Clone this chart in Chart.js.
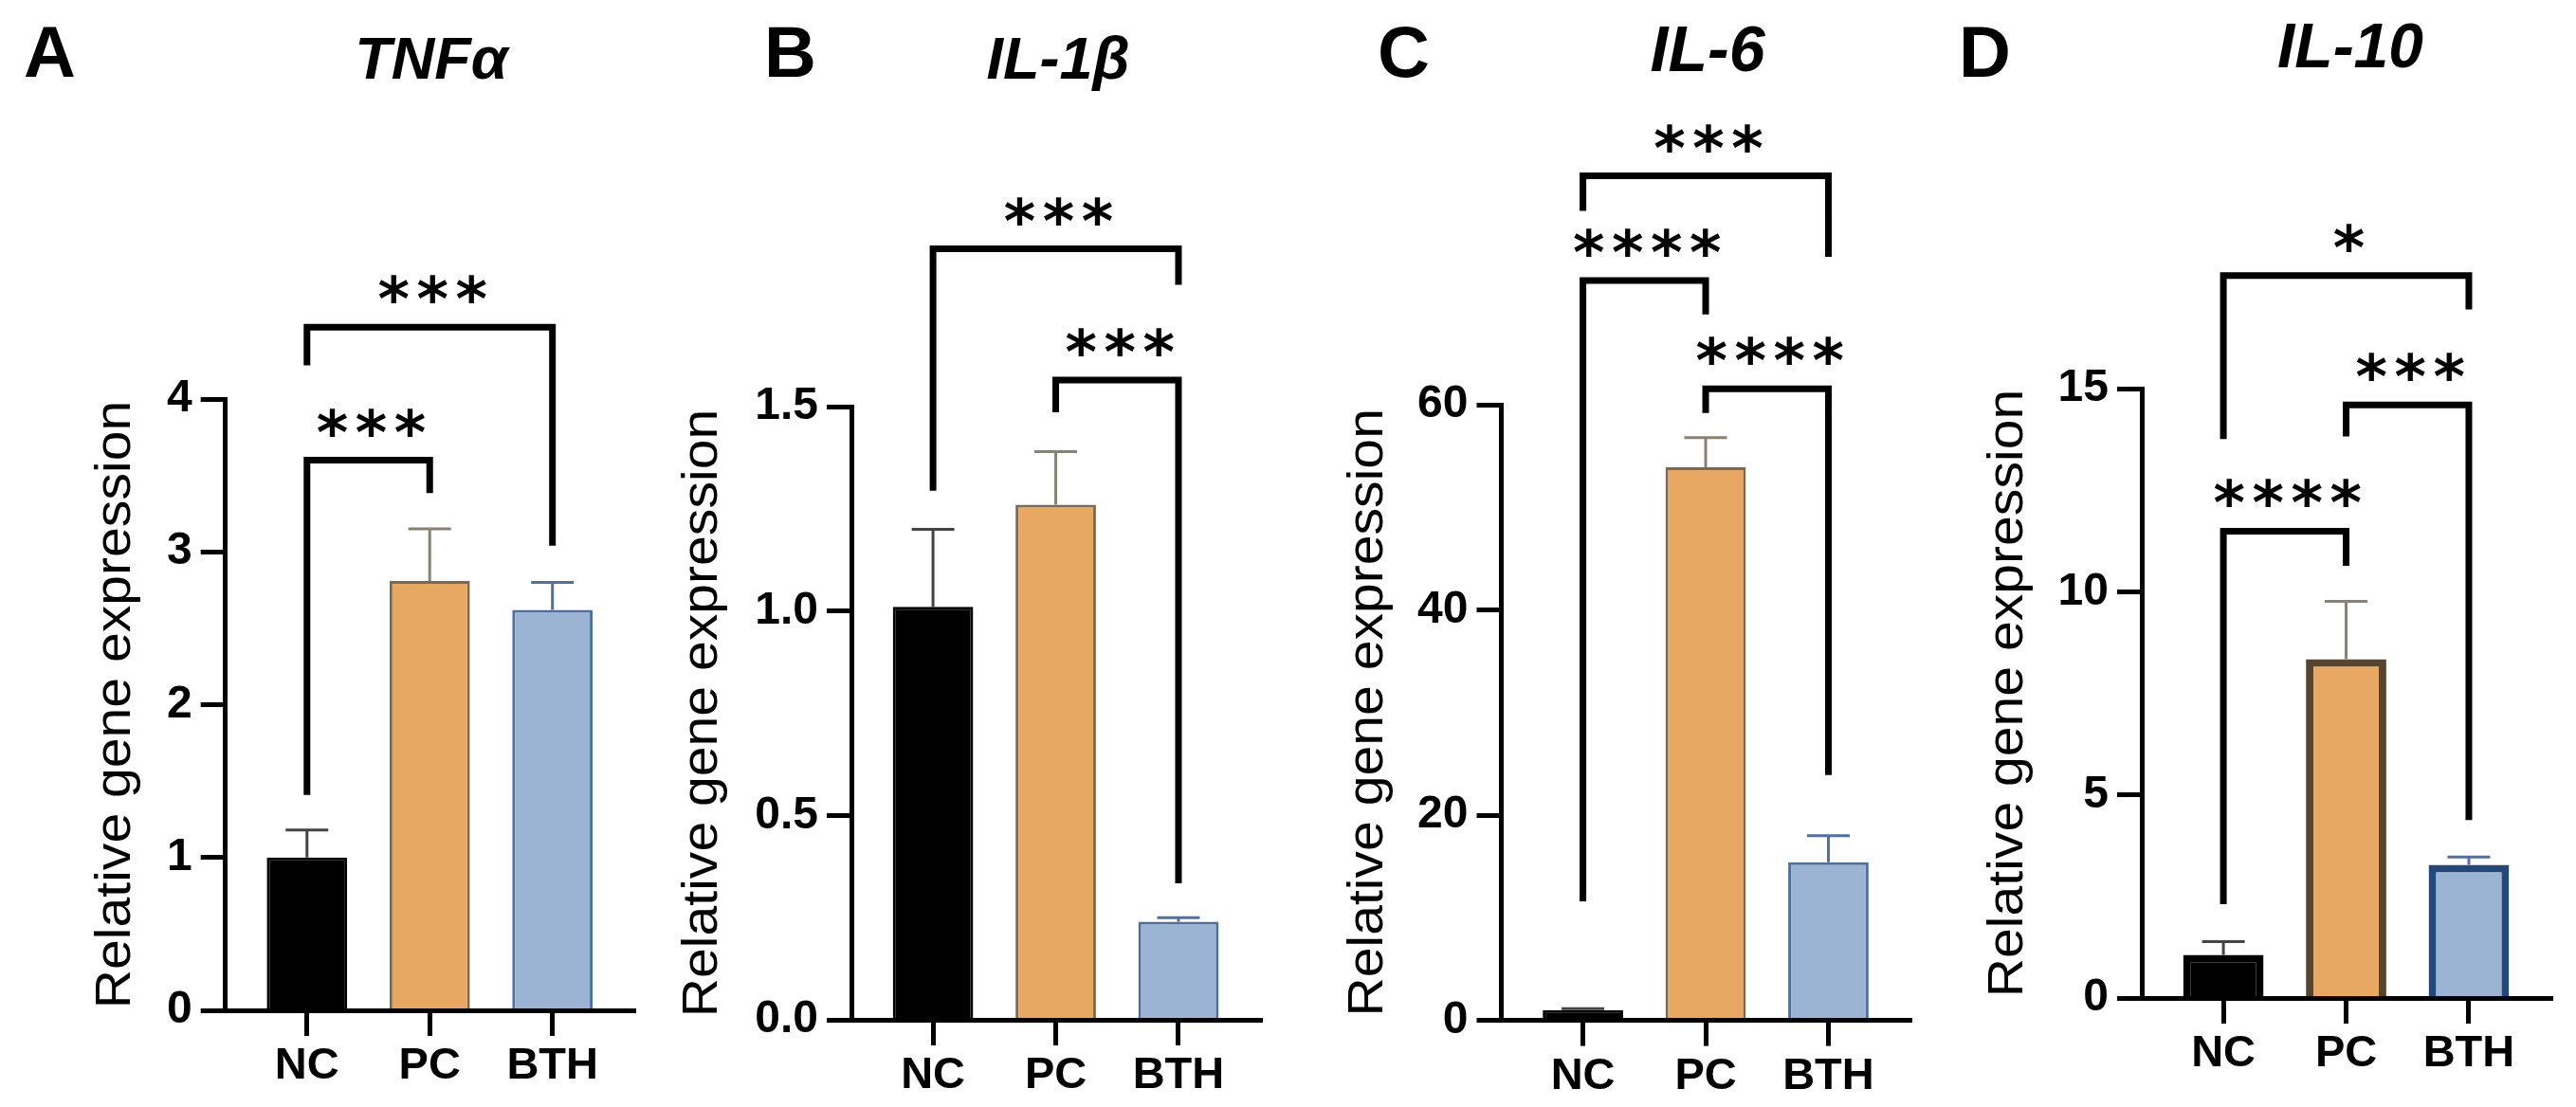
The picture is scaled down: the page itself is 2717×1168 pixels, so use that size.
<!DOCTYPE html>
<html>
<head>
<meta charset="utf-8">
<script src="https://cdn.jsdelivr.net/npm/chart.js@4.4.1/dist/chart.umd.min.js"></script>
<style>
  body{margin:0;background:#fff;width:2717px;height:1168px;overflow:hidden;position:relative}
  canvas{position:absolute;top:0}
</style>
</head>
<body>
<canvas id="c0"></canvas><canvas id="c1"></canvas><canvas id="c2"></canvas><canvas id="c3"></canvas>
<script>
// data
const groups = ['NC', 'PC', 'BTH'];
const letters = ['A', 'B', 'C', 'D'];
const genes = ['TNFα', 'IL-1β', 'IL-6', 'IL-10'];
const yTitle = 'Relative gene expression';

const meanTNF  = [1.00, 2.81, 2.62];
const errTNF   = [0.18, 0.34, 0.18];
const meanIL1b = [1.01, 1.26, 0.24];
const errIL1b  = [0.19, 0.13, 0.01];
const meanIL6  = [1.0, 53.9, 15.4];
const errIL6   = [0.15, 2.9, 2.6];
const meanIL10 = [1.06, 8.34, 3.28];
const errIL10  = [0.33, 1.42, 0.19];

const yMax  = [4, 1.5, 60, 15];
const yStep = [1, 0.5, 20, 5];
const yDecimals = [0, 1, 0, 0];

// significance brackets: [from, to, bar level, left leg end, right leg end, label]
const sigTNF  = [[0, 2, 4.47, 4.22, 3.04, '***'], [0, 1, 3.60, 1.41, 3.385, '***']];
const sigIL1b = [[0, 2, 1.886, 1.294, 1.798, '***'], [1, 2, 1.565, 1.486, 0.334, '***']];
const sigIL6  = [[0, 2, 82.3, 78.9, 74.4, '***'], [0, 1, 72.1, 11.6, 68.8, '****'], [1, 2, 61.55, 59.2, 23.9, '****']];
const sigIL10 = [[0, 2, 17.78, 13.76, 16.95, '*'], [1, 2, 14.6, 13.82, 4.38, '***'], [0, 1, 11.49, 2.31, 10.64, '****']];

const means = [meanTNF, meanIL1b, meanIL6, meanIL10];
const errs = [errTNF, errIL1b, errIL6, errIL10];
const sigs = [sigTNF, sigIL1b, sigIL6, sigIL10];

// look
const FONT = "'Liberation Sans', Arial, sans-serif";
const fills = ['#000000', '#E8A862', '#9BB4D4'];
const borderSets = [
  ['#000000', '#7a6a50', '#4d6e9e'],
  ['#000000', '#7a6a50', '#4d6e9e'],
  ['#000000', '#7a6a50', '#4d6e9e'],
  ['#000000', '#55442f', '#23497c']
];
const borderW = [3, 3, 3, 8];
const errColors = ['#444444', '#8a8170', '#5070a2'];

const H = 1168;
const AXIS_LEN = 433;
const panels = [
  {left: 0,    width: 680, axisX: 237.7,  top: 421, bottom: 1066,   titleOff: 101, letterX: 25,   titleX: 455,  titleY: 83,   titleSize: 63},
  {left: 680,  width: 680, axisX: 898,    top: 429, bottom: 1076,   titleOff: 142, letterX: 806,  titleX: 1116, titleY: 83,   titleSize: 63},
  {left: 1360, width: 680, axisX: 1583.5, top: 427, bottom: 1076.6, titleOff: 126, letterX: 1453, titleX: 1801, titleY: 74.5, titleSize: 68},
  {left: 2040, width: 677, axisX: 2259,   top: 410, bottom: 1053,   titleOff: 126, letterX: 2066, titleX: 2479, titleY: 71,   titleSize: 66}
];

const decor = {
  id: 'decor',
  afterDatasetsDraw(chart, args, o) {
    const ctx = chart.ctx, ys = chart.scales.y;
    const bars = chart.getDatasetMeta(0).data;
    ctx.save();
    ctx.lineWidth = 3;
    bars.forEach((b, i) => {
      const top = ys.getPixelForValue(o.mean[i]);
      const end = ys.getPixelForValue(o.mean[i] + o.err[i]);
      ctx.strokeStyle = errColors[i];
      ctx.beginPath();
      ctx.moveTo(b.x, top); ctx.lineTo(b.x, end);
      ctx.moveTo(b.x - 22.5, end); ctx.lineTo(b.x + 22.5, end);
      ctx.stroke();
    });
    ctx.restore();
  },
  afterDraw(chart, args, o) {
    const ctx = chart.ctx, xs = chart.scales.x, ys = chart.scales.y, ca = chart.chartArea;
    const p = o.panel;
    ctx.save();
    ctx.fillStyle = '#000';
    ctx.strokeStyle = '#000';
    // brackets and stars
    ctx.lineWidth = 7;
    ctx.lineJoin = 'miter';
    o.sig.forEach(s => {
      const x1 = xs.getPixelForValue(s[0]), x2 = xs.getPixelForValue(s[1]);
      const yl = ys.getPixelForValue(s[2]);
      ctx.beginPath();
      ctx.moveTo(x1, ys.getPixelForValue(s[3]));
      ctx.lineTo(x1, yl);
      ctx.lineTo(x2, yl);
      ctx.lineTo(x2, ys.getPixelForValue(s[4]));
      ctx.stroke();
      const n = s[5].length, pitch = 41, cx = (x1 + x2) / 2 + 3;
      ctx.font = "bold 64px 'DejaVu Sans', sans-serif";
      ctx.textAlign = 'center';
      ctx.textBaseline = 'alphabetic';
      for (let k = 0; k < n; k++) {
        ctx.fillText('*', cx + (k - (n - 1) / 2) * pitch, yl - 42 + 35);
      }
    });
    // panel letter and gene title
    ctx.textBaseline = 'alphabetic';
    ctx.font = 'bold 76px ' + FONT;
    ctx.textAlign = 'left';
    ctx.fillText(o.letter, p.letterX - p.left, 81);
    ctx.font = 'italic bold ' + p.titleSize + 'px ' + FONT;
    ctx.textAlign = 'center';
    ctx.fillText(o.gene, p.titleX - p.left, p.titleY);
    // y axis title
    ctx.font = '51px ' + FONT;
    ctx.save();
    ctx.translate(p.axisX - p.left - p.titleOff, (ca.top + ca.bottom) / 2);
    ctx.rotate(-Math.PI / 2);
    ctx.scale(1.12, 1);
    ctx.textAlign = 'center';
    ctx.fillText(yTitle, 0, 0);
    ctx.restore();
    ctx.restore();
  }
};

panels.forEach((p, idx) => {
  const cv = document.getElementById('c' + idx);
  cv.width = p.width; cv.height = H;
  cv.style.left = p.left + 'px';
  cv.style.width = p.width + 'px'; cv.style.height = H + 'px';
  const axisLocal = p.axisX - p.left;
  new Chart(cv, {
    type: 'bar',
    data: {
      datasets: [{
        data: means[idx].map((v, i) => ({x: i, y: v})),
        backgroundColor: fills,
        borderColor: borderSets[idx],
        borderWidth: borderW[idx],
        borderSkipped: 'bottom',
        barPercentage: 0.655,
        categoryPercentage: 1
      }]
    },
    options: {
      responsive: false,
      devicePixelRatio: 1,
      animation: false,
      layout: {padding: {left: 0, top: p.top, right: p.width - axisLocal - AXIS_LEN, bottom: 0}},
      plugins: {
        legend: {display: false},
        tooltip: {enabled: false},
        decor: {mean: means[idx], err: errs[idx], sig: sigs[idx], panel: p, letter: letters[idx], gene: genes[idx]}
      },
      scales: {
        x: {
          type: 'linear', min: -0.665, max: 2.68, offset: false,
          afterFit: s => { s.height = H - p.bottom; },
          ticks: {
            stepSize: 1, includeBounds: false, autoSkip: false, maxRotation: 0,
            callback: v => groups[v] ?? '',
            font: {family: FONT, size: 47, weight: 'bold'}, color: '#000', padding: 4
          },
          grid: {drawOnChartArea: false, offset: false, tickLength: 27, tickWidth: 5, color: '#000'},
          border: {color: '#000', width: 5, z: 1}
        },
        y: {
          min: 0, max: yMax[idx],
          afterFit: s => { s.width = axisLocal; },
          ticks: {
            stepSize: yStep[idx],
            callback: v => Number(v).toFixed(yDecimals[idx]),
            font: {family: FONT, size: 48, weight: 'bold'}, color: '#000', padding: 9
          },
          grid: {drawOnChartArea: false, tickLength: 26, tickWidth: 5, color: '#000'},
          border: {color: '#000', width: 5, z: 1}
        }
      }
    },
    plugins: [decor]
  });
});
</script>
</body>
</html>
